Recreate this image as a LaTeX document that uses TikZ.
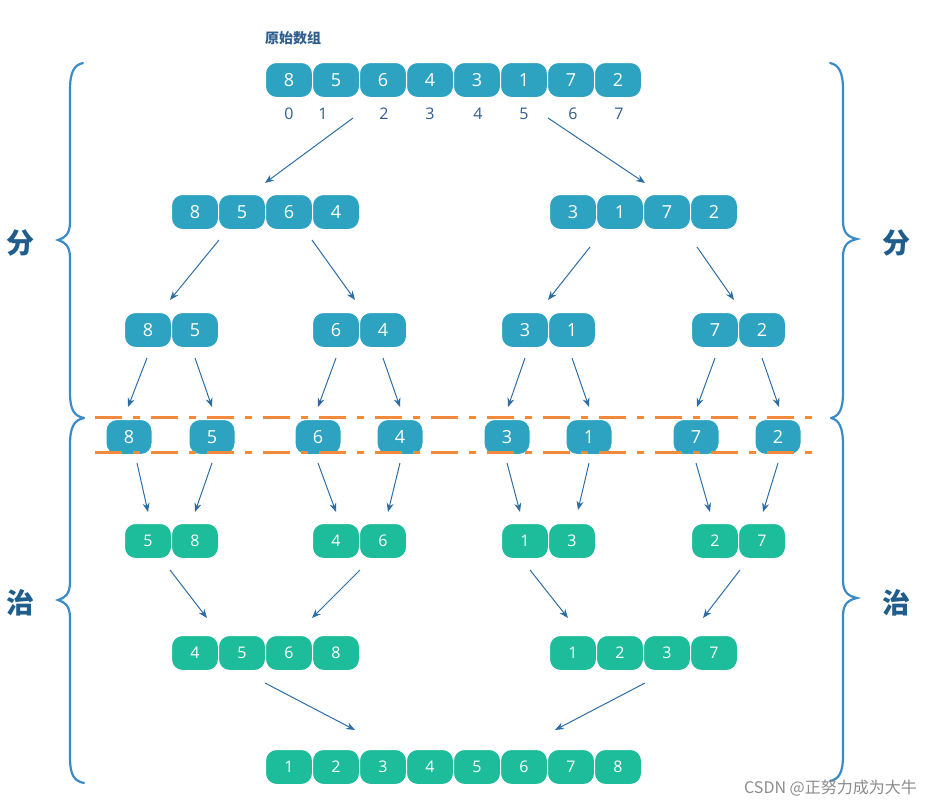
\documentclass[tikz,border=0pt]{standalone}
\usepackage{fontspec}
\setmainfont{Open Sans}
\newfontfamily\cjk{Noto Sans CJK SC}
\usetikzlibrary{arrows.meta}
\definecolor{boxblue}{HTML}{2DA3C1}
\definecolor{boxgreen}{HTML}{1DBC9A}
\definecolor{arrowblue}{HTML}{2E6DA4}
\definecolor{braceblue}{HTML}{3A8BC8}
\definecolor{cutorange}{HTML}{F28A3E}
\definecolor{idxblue}{HTML}{2F5E8E}
\definecolor{sideblue}{HTML}{1F5E8C}
\tikzset{
 cell/.style={rounded corners=11pt, minimum width=47pt, minimum height=35pt, inner sep=0pt, draw=white, line width=1pt, text=white},
 bcell/.style={cell, fill=boxblue, font=\fontsize{18}{18}\selectfont},
 gcell/.style={cell, fill=boxgreen, font=\fontsize{16}{16}\selectfont},
 arr/.style={draw=arrowblue, line width=1pt, -{Stealth[length=9pt,width=7pt]}},
 bracepath/.style={draw=braceblue, line width=2.2pt, line cap=round},
 cut/.style={draw=cutorange, line width=3pt, dash pattern=on 27pt off 11pt on 7pt off 11pt},
 idx/.style={text=idxblue, font=\fontsize{16}{16}\selectfont},
 side/.style={text=sideblue, font=\cjk\bfseries\fontsize{28}{28}\selectfont},
}
\begin{document}
\begin{tikzpicture}[x=1pt,y=-1pt]
\useasboundingbox (0,0) rectangle (931,806);
% title
\node[anchor=west, inner sep=0pt, text=idxblue, font=\cjk\bfseries\fontsize{14}{14}\selectfont] (title) at (265,38) {原始数组};
% level 1
\foreach \v [count=\i] in {8,5,6,4,3,1,7,2}
  \node[bcell] (a\i) at ({289+47*(\i-1)},80) {\v};
\foreach \x [count=\i from 0] in {289,323,384,430,478,524,573,619}
  \node[idx] (ix\i) at (\x,114) {\i};
% level 2
\foreach \v [count=\i] in {8,5,6,4}
  \node[bcell] (bl\i) at ({195+47*(\i-1)},212) {\v};
\foreach \v [count=\i] in {3,1,7,2}
  \node[bcell] (br\i) at ({573+47*(\i-1)},212) {\v};
% level 3
\foreach \v/\x [count=\i] in {8/148,5/195,6/336,4/383,3/525,1/572,7/715,2/762}
  \node[bcell] (c\i) at (\x,330) {\v};
% level 4
\foreach \v/\x [count=\i] in {8/129,5/212,6/318,4/400,3/507,1/589,7/696,2/778}
  \node[bcell, minimum width=46pt] (d\i) at (\x,437) {\v};
% level 5
\foreach \v/\x [count=\i] in {5/148,8/195,4/336,6/383,1/525,3/572,2/715,7/762}
  \node[gcell] (e\i) at (\x,541) {\v};
% level 6
\foreach \v [count=\i] in {4,5,6,8}
  \node[gcell] (fl\i) at ({195+47*(\i-1)},653) {\v};
\foreach \v [count=\i] in {1,2,3,7}
  \node[gcell] (fr\i) at ({573+47*(\i-1)},653) {\v};
% level 7
\foreach \v [count=\i] in {1,2,3,4,5,6,7,8}
  \node[gcell] (g\i) at ({289+47*(\i-1)},767) {\v};
% cut lines
\coordinate (cutA) at (95,417); \coordinate (cutB) at (822,417);
\coordinate (cutC) at (95,452); \coordinate (cutD) at (822,452);
\draw[cut] (cutA) -- (cutB);
\draw[cut] (cutC) -- (cutD);
% arrows
\foreach \sx/\sy/\tx/\ty [count=\k] in {
  353/118/265/183, 548/118/645/183,
  219/240/170/300, 312/240/355/300, 590/247/548/300, 697/247/734/300,
  147/358/128/407, 195/358/212/407, 336/358/318/407, 383/358/400/407,
  525/358/508/407, 572/358/589/407, 715/358/697/407, 762/358/779/407,
  137/463/148/512, 212/463/195/512, 318/463/336/512, 400/463/388/512,
  507/463/520/512, 589/463/578/510, 696/463/710/512, 778/463/763/512,
  170/570/207/618, 360/570/312/618, 530/570/568/618, 740/570/703/618,
  265/683/355/730, 645/683/555/730} {
  \coordinate (s\k) at (\sx,\sy);
  \coordinate (t\k) at (\tx,\ty);
  \draw[arr] (s\k) -- (t\k);
}
% braces
\draw[bracepath] (83,63) .. controls (74,65) and (70,72) .. (70,90) -- (70,222)
  .. controls (70,234) and (65,238) .. (58,240) .. controls (65,242) and (70,246) .. (70,258)
  -- (70,392) .. controls (70,410) and (74,416) .. (84,418);
\draw[bracepath] (84,418) .. controls (74,420) and (70,427) .. (70,445) -- (70,582)
  .. controls (70,594) and (65,598) .. (58,600) .. controls (65,602) and (70,606) .. (70,618)
  -- (70,757) .. controls (70,775) and (74,781) .. (84,783);
\draw[bracepath] (830,63) .. controls (839,65) and (843,72) .. (843,90) -- (843,221)
  .. controls (843,233) and (848,237) .. (857,239) .. controls (848,241) and (843,245) .. (843,257)
  -- (843,392) .. controls (843,410) and (839,416) .. (831,418);
\draw[bracepath] (831,418) .. controls (839,420) and (843,427) .. (843,445) -- (843,580)
  .. controls (843,592) and (848,596) .. (857,598) .. controls (848,600) and (843,604) .. (843,616)
  -- (843,755) .. controls (843,773) and (839,779) .. (830,781);
% side labels
\node[side] (fenL) at (20,243) {分};
\node[side] (fenR) at (896,243) {分};
\node[side] (zhiL) at (20,603) {治};
\node[side] (zhiR) at (896,603) {治};
% watermark
\node[anchor=east, inner sep=0pt, text=black!45, font=\cjk\fontsize{16}{16}\selectfont] (wm) at (917,788) {CSDN @正努力成为大牛};
\end{tikzpicture}
\end{document}
